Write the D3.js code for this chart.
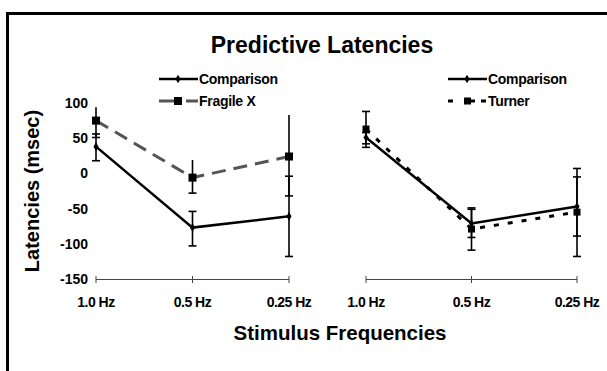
<!DOCTYPE html>
<html><head><meta charset="utf-8">
<script src="https://cdn.jsdelivr.net/npm/d3@7/dist/d3.min.js"></script>
<style>
html,body{margin:0;padding:0;background:#fff;}
svg text{font-family:"Liberation Sans",Arial,sans-serif;font-weight:bold;fill:#000;}
</style></head><body>
<svg id="c" width="607" height="371"></svg>
<script>
const categories = ["1.0 Hz", "0.5 Hz", "0.25 Hz"];
const yTicks = [100, 50, 0, -50, -100, -150];

const leftComparison     = [38, -77, -61];
const leftComparisonLow  = [18, -103, -118];
const leftComparisonHigh = [56, -54, -4];
const fragileX     = [75, -6, 24];
const fragileXLow  = [51, -28, -32];
const fragileXHigh = [94, 19, 83];

const rightComparison     = [51, -71, -47];
const rightComparisonLow  = [42, -91, -89];
const rightComparisonHigh = [58, -51, -5];
const turner     = [63, -79, -55];
const turnerLow  = [37, -109, -118];
const turnerHigh = [88, -49, 7];

const svg = d3.select("#c");

// frame
svg.append("path").attr("d","M7.5,371 L7.5,13.5 L607,13.5")
  .attr("fill","none").attr("stroke","#000").attr("stroke-width",3);

const y = d3.scaleLinear().domain([-150, 100]).range([279, 103]);
const xL = d3.scalePoint().domain(categories).range([96, 289]);
const xR = d3.scalePoint().domain(categories).range([366, 577]);

svg.append("text").attr("x", 322).attr("y", 53).attr("text-anchor","middle")
  .style("font-size","23px").text("Predictive Latencies");

// y tick labels
svg.append("g").selectAll("text").data(yTicks).join("text")
  .attr("x", 88).attr("y", d => y(d)).attr("dy","0.36em")
  .attr("text-anchor","end").style("font-size","14px").text(d => d);

svg.append("text").attr("transform","translate(39,191) rotate(-90)")
  .attr("text-anchor","middle").style("font-size","20px").text("Latencies (msec)");

svg.append("text").attr("x", 340).attr("y", 340).attr("text-anchor","middle")
  .style("font-size","20.5px").text("Stimulus Frequencies");

function axis(x){
  const g = svg.append("g");
  g.append("line").attr("x1", x(categories[0])).attr("x2", x(categories[2]))
    .attr("y1", y(-150)+0.5).attr("y2", y(-150)+0.5).attr("stroke","#444").attr("stroke-width",1);
  g.selectAll("line.t").data(categories).join("line").attr("class","t")
    .attr("x1", d => x(d)).attr("x2", d => x(d))
    .attr("y1", y(-150)-3).attr("y2", y(-150)+4).attr("stroke","#444").attr("stroke-width",1);
  g.selectAll("text").data(categories).join("text")
    .attr("x", d => x(d)).attr("y", 307).attr("text-anchor","middle")
    .style("font-size","14px").style("letter-spacing","-0.5px").text(d => d);
}
axis(xL); axis(xR);

function errorBars(x, vals, lo, hi, capLo, capHi){
  const g = svg.append("g").attr("stroke","#000").attr("stroke-width",1.6);
  categories.forEach((c,i) => {
    const cx = x(c);
    g.append("line").attr("x1",cx).attr("x2",cx).attr("y1",y(hi[i])).attr("y2",y(lo[i]));
    if (capLo) g.append("line").attr("x1",cx-4).attr("x2",cx+4).attr("y1",y(lo[i])).attr("y2",y(lo[i]));
    if (capHi) g.append("line").attr("x1",cx-4).attr("x2",cx+4).attr("y1",y(hi[i])).attr("y2",y(hi[i]));
  });
}

function series(x, vals, color, width, dash){
  const line = d3.line().x((d,i) => x(categories[i])).y(d => y(d));
  svg.append("path").attr("d", line(vals)).attr("fill","none")
    .attr("stroke", color).attr("stroke-width", width)
    .attr("stroke-dasharray", dash || null);
}
function diamonds(x, vals){
  svg.append("g").selectAll("path").data(vals).join("path")
    .attr("d", d3.symbol(d3.symbolDiamond, 22))
    .attr("transform", (d,i) => `translate(${x(categories[i])},${y(d)})`)
    .attr("fill","#000");
}
function squares(x, vals, s){
  svg.append("g").selectAll("rect").data(vals).join("rect")
    .attr("x", (d,i) => x(categories[i]) - s/2).attr("y", d => y(d) - s/2)
    .attr("width", s).attr("height", s).attr("fill","#000");
}

// left panel
errorBars(xL, fragileX, fragileXLow, fragileXHigh, true, false);
errorBars(xL, leftComparison, leftComparisonLow, leftComparisonHigh, true, true);
series(xL, fragileX, "#555", 3, "14,8");
series(xL, leftComparison, "#000", 2.5);
squares(xL, fragileX, 8);
diamonds(xL, leftComparison);

// right panel
errorBars(xR, turner, turnerLow, turnerHigh, true, true);
errorBars(xR, rightComparison, rightComparisonLow, rightComparisonHigh, true, true);
series(xR, turner, "#000", 3, "5,9");
series(xR, rightComparison, "#000", 2.5);
squares(xR, turner, 7);
diamonds(xR, rightComparison);

// legends
function legend(x0, rows){
  rows.forEach((r,i) => {
    const yy = 79 + i*22;
    const g = svg.append("g");
    if (r.kind === "comp") {
      g.append("line").attr("x1",x0).attr("x2",x0+39).attr("y1",yy).attr("y2",yy)
        .attr("stroke","#000").attr("stroke-width",2.5);
      g.append("path").attr("d", d3.symbol(d3.symbolDiamond, 22))
        .attr("transform",`translate(${x0+19},${yy})`).attr("fill","#000");
    } else if (r.kind === "fx") {
      g.append("line").attr("x1",x0).attr("x2",x0+39).attr("y1",yy).attr("y2",yy)
        .attr("stroke","#555").attr("stroke-width",3).attr("stroke-dasharray","18,9,12");
      g.append("rect").attr("x",x0+15).attr("y",yy-4).attr("width",8).attr("height",8).attr("fill","#000");
    } else {
      g.append("line").attr("x1",x0).attr("x2",x0+39).attr("y1",yy).attr("y2",yy)
        .attr("stroke","#000").attr("stroke-width",3).attr("stroke-dasharray","5,12,10,6,5");
      g.append("rect").attr("x",x0+16).attr("y",yy-3.5).attr("width",7).attr("height",7).attr("fill","#000");
    }
    g.append("text").attr("x", x0+40).attr("y", yy).attr("dy","0.36em")
      .style("font-size","14px").style("letter-spacing","-0.3px").text(r.label);
  });
}
legend(159, [{kind:"comp",label:"Comparison"},{kind:"fx",label:"Fragile X"}]);
legend(448, [{kind:"comp",label:"Comparison"},{kind:"tu",label:"Turner"}]);
</script>
</body></html>
